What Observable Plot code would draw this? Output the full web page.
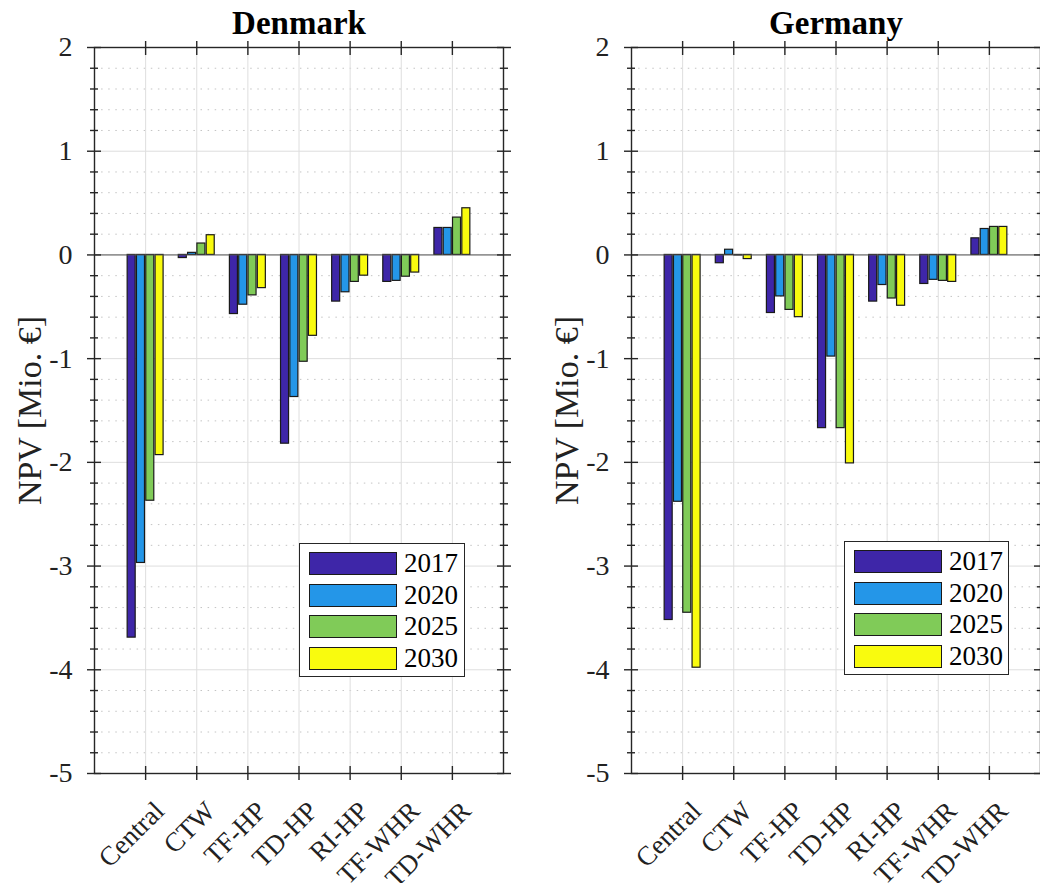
<!DOCTYPE html>
<html><head><meta charset="utf-8">
<script src="https://cdn.jsdelivr.net/npm/d3@7"></script>
<script src="https://cdn.jsdelivr.net/npm/@observablehq/plot@0.6"></script>
<style>
html,body{margin:0;padding:0;background:#fff}
body{width:1040px;height:883px;overflow:hidden;position:relative;font-family:"Liberation Serif","Times New Roman",serif}
.panel{position:absolute;top:0;width:520px;height:883px}
.panel svg{max-width:none !important}
.legend{position:absolute;box-sizing:border-box;border:1px solid #262626;background:#fff}
.legend .row{position:absolute;left:9px;display:flex;align-items:center;height:23px}
.legend .sw{width:86px;height:21px;border:1px solid #1a1a1a}
.legend .lab{margin-left:7px;font-size:27px;line-height:23px;color:#000}
</style></head><body>
<div id="dk" class="panel" style="left:0"></div>
<div id="de" class="panel" style="left:537px"></div>
<script>
const categories = ["Central","CTW","TF-HP","TD-HP","RI-HP","TF-WHR","TD-WHR"];
const years = ["2017","2020","2025","2030"];
const colors = ["#3e26a8","#2496e8","#80cb58","#f9fb0e"];
const yTicks = [-5,-4,-3,-2,-1,0,1,2];
const yLabel = "NPV [Mio. €]";

const denmark2017 = [-3.69,-0.03,-0.57,-1.82,-0.45,-0.26,0.26];
const denmark2020 = [-2.97, 0.02,-0.48,-1.37,-0.36,-0.25,0.26];
const denmark2025 = [-2.37, 0.11,-0.39,-1.03,-0.26,-0.21,0.36];
const denmark2030 = [-1.93, 0.19,-0.32,-0.78,-0.20,-0.17,0.45];

const germany2017 = [-3.52,-0.08,-0.56,-1.67,-0.45,-0.28,0.16];
const germany2020 = [-2.38, 0.05,-0.40,-0.98,-0.29,-0.24,0.25];
const germany2025 = [-3.45,-0.005,-0.53,-1.67,-0.42,-0.25,0.27];
const germany2030 = [-3.98,-0.04,-0.60,-2.01,-0.49,-0.26,0.27];

const catPos = categories.map((c, i) => i + 1);
const minorTicks = d3.range(-50, 21, 2).map(v => v / 10).filter(v => !Number.isInteger(v));
const step = 0.182, barW = 0.157;

function rowsOf(series) {
  const rows = [];
  series.forEach((vals, j) => vals.forEach((v, i) => {
    const c = i + 1 + (j - 1.5) * step;
    rows.push({category: categories[i], year: years[j], value: v, x1: c - barW / 2, x2: c + barW / 2});
  }));
  return rows;
}

function panel(title, series) {
  const rows = rowsOf(series);
  const ax = "#262626";
  return Plot.plot({
    width: 520, height: 883,
    marginLeft: 94, marginRight: 17, marginTop: 47, marginBottom: 110,
    style: {fontFamily: '"Liberation Serif","Times New Roman",serif', color: "#000", background: "#fff", overflow: "visible", maxWidth: "none"},
    x: {domain: [0, 8]},
    y: {domain: [-5, 2]},
    color: {domain: years, range: colors},
    marks: [
      Plot.ruleY(minorTicks, {stroke: "#c4c4c4", strokeDasharray: "1.5,5.6", strokeWidth: 1}),
      Plot.gridY(yTicks, {stroke: "#dedede", strokeOpacity: 1, strokeWidth: 1}),
      Plot.gridX(catPos, {stroke: "#dedede", strokeOpacity: 1, strokeWidth: 1}),
      Plot.rectY(rows, {x1: "x1", x2: "x2", y: "value", fill: "year", stroke: "#1a1a1a", strokeWidth: 1.2}),
      Plot.ruleY([0], {stroke: "#555", strokeWidth: 1}),
      Plot.frame({stroke: ax, strokeWidth: 1.4}),
      Plot.axisY({anchor: "left", ticks: yTicks, tickSize: 14, dx: 7, fill: "none", stroke: ax, strokeWidth: 1.4, label: null}),
      Plot.axisY({anchor: "right", ticks: yTicks, tickSize: 14, dx: -7, fill: "none", stroke: ax, strokeWidth: 1.4, label: null}),
      Plot.axisY({anchor: "left", ticks: minorTicks, tickSize: 8, dx: 4, fill: "none", stroke: ax, strokeWidth: 1.4, label: null}),
      Plot.axisY({anchor: "right", ticks: minorTicks, tickSize: 8, dx: -4, fill: "none", stroke: ax, strokeWidth: 1.4, label: null}),
      Plot.axisY({anchor: "left", ticks: yTicks, tickSize: 0, tickPadding: 22, fontSize: 28, fill: "#222", label: null, tickFormat: d => String(d)}),
      Plot.axisX({anchor: "bottom", ticks: catPos, tickSize: 14, dy: -7, fill: "none", stroke: ax, strokeWidth: 1.4, label: null}),
      Plot.axisX({anchor: "top", ticks: catPos, tickSize: 14, dy: 7, fill: "none", stroke: ax, strokeWidth: 1.4, label: null}),
      Plot.axisX({anchor: "bottom", ticks: catPos, tickSize: 0, tickPadding: 33, tickRotate: -45, dx: 14, fontSize: 27, fill: "#222", label: null, tickFormat: i => categories[i - 1]}),
      Plot.text([title], {text: d => d, frameAnchor: "top", dy: -14, lineAnchor: "bottom", fontSize: 33, fontWeight: "bold", fill: "#000"}),
      Plot.text([yLabel], {text: d => d, frameAnchor: "left", textAnchor: "middle", rotate: -90, dx: -64, fontSize: 34, fill: "#222"})
    ]
  });
}

function legend(host, left, top, width, height) {
  const el = document.createElement("div");
  el.className = "legend";
  Object.assign(el.style, {left: left + "px", top: top + "px", width: width + "px", height: height + "px"});
  years.forEach((y, j) => {
    const r = document.createElement("div");
    r.className = "row";
    r.style.top = (8 + j * 31.5) + "px";
    const sw = document.createElement("div");
    sw.className = "sw"; sw.style.background = colors[j];
    const lab = document.createElement("div");
    lab.className = "lab"; lab.textContent = y;
    r.appendChild(sw); r.appendChild(lab);
    el.appendChild(r);
  });
  host.appendChild(el);
}

document.getElementById("dk").appendChild(panel("Denmark", [denmark2017, denmark2020, denmark2025, denmark2030]));
document.getElementById("de").appendChild(panel("Germany", [germany2017, germany2020, germany2025, germany2030]));
legend(document.body, 299, 543, 166, 134);
legend(document.body, 844, 541, 165, 134);
</script>
</body></html>
